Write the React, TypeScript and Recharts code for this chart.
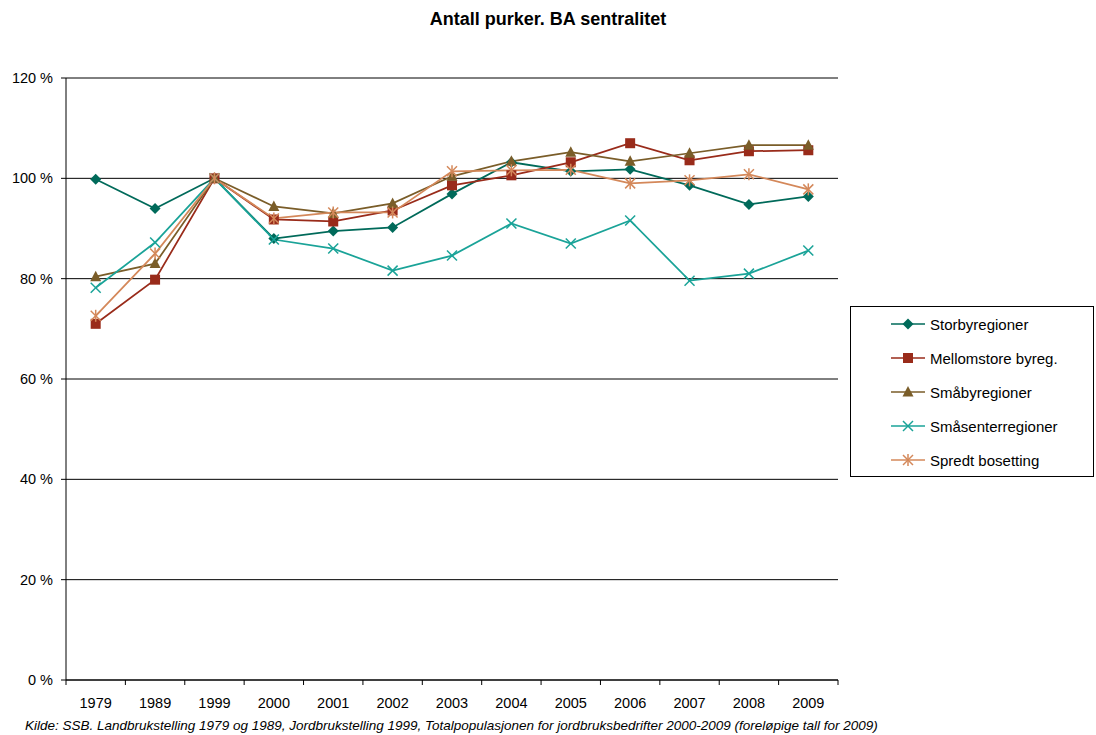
import React from "react";
import {
  LineChart,
  Line,
  XAxis,
  YAxis,
  CartesianGrid,
} from "recharts";

const years = ["1979", "1989", "1999", "2000", "2001", "2002", "2003", "2004", "2005", "2006", "2007", "2008", "2009"];

const storby = [99.8, 94, 100, 88, 89.5, 90.2, 96.9, 103.2, 101.4, 101.8, 98.6, 94.8, 96.4];
const mellomstore = [71, 79.8, 100, 91.8, 91.4, 93.6, 98.6, 100.6, 103.2, 107, 103.6, 105.4, 105.6];
const smaaby = [80.4, 83, 100, 94.4, 93, 95, 100.4, 103.4, 105.2, 103.4, 105, 106.6, 106.6];
const smaasenter = [78.2, 87.2, 100, 87.8, 86, 81.6, 84.6, 91, 87, 91.6, 79.6, 81, 85.6];
const spredt = [72.6, 85, 100, 92, 93.2, 93.2, 101.4, 101.6, 101.7, 99, 99.6, 100.8, 97.8];

const yTicks = [0, 20, 40, 60, 80, 100, 120];

const series = [
  { key: "storby", name: "Storbyregioner", values: storby, color: "#006A5A", shape: "diamond" },
  { key: "mellomstore", name: "Mellomstore byreg.", values: mellomstore, color: "#992B1A", shape: "square" },
  { key: "smaaby", name: "Småbyregioner", values: smaaby, color: "#7A5D29", shape: "triangle" },
  { key: "smaasenter", name: "Småsenterregioner", values: smaasenter, color: "#1AA398", shape: "x" },
  { key: "spredt", name: "Spredt bosetting", values: spredt, color: "#D4885A", shape: "star" },
];

const data = years.map((year, i) => {
  const row: any = { year };
  series.forEach((s) => {
    row[s.key] = s.values[i];
  });
  return row;
});

const FONT = "'Liberation Sans', Arial, sans-serif";
const PLOT_LEFT = 66;
const PLOT_RIGHT = 838;
const BAND = (PLOT_RIGHT - PLOT_LEFT) / years.length;

function Marker({ shape, cx, cy, color }: any) {
  if (cx == null || cy == null) return null;
  const r = 5.5;
  if (shape === "diamond") {
    return <polygon points={`${cx},${cy - r} ${cx + r},${cy} ${cx},${cy + r} ${cx - r},${cy}`} fill={color} />;
  }
  if (shape === "square") {
    return <rect x={cx - 5} y={cy - 5} width={10} height={10} fill={color} />;
  }
  if (shape === "triangle") {
    return <polygon points={`${cx},${cy - 6} ${cx + 5.5},${cy + 4.5} ${cx - 5.5},${cy + 4.5}`} fill={color} />;
  }
  if (shape === "x") {
    return (
      <g stroke={color} strokeWidth={1.5}>
        <line x1={cx - 5} y1={cy - 5} x2={cx + 5} y2={cy + 5} />
        <line x1={cx - 5} y1={cy + 5} x2={cx + 5} y2={cy - 5} />
      </g>
    );
  }
  return (
    <g stroke={color} strokeWidth={1.5}>
      <line x1={cx - 5} y1={cy - 5} x2={cx + 5} y2={cy + 5} />
      <line x1={cx - 5} y1={cy + 5} x2={cx + 5} y2={cy - 5} />
      <line x1={cx} y1={cy - 6} x2={cx} y2={cy + 6} />
    </g>
  );
}

const XTick = ({ x, y, payload, index }: any) => {
  const left = x - BAND / 2;
  return (
    <g>
      <line x1={left} y1={y} x2={left} y2={y + 5} stroke="#000" />
      {index === years.length - 1 && (
        <line x1={x + BAND / 2} y1={y} x2={x + BAND / 2} y2={y + 5} stroke="#000" />
      )}
      <text x={x} y={y + 28} textAnchor="middle" fontSize={14.5} fontFamily={FONT} fill="#000">
        {payload.value}
      </text>
    </g>
  );
};

const LegendBox = () => (
  <div
    style={{
      position: "absolute",
      left: 850,
      top: 306,
      width: 244,
      height: 171,
      border: "1px solid #000",
      boxSizing: "border-box",
      background: "#fff",
      fontFamily: FONT,
      fontSize: 15,
    }}
  >
    {series.map((s, i) => (
      <div key={s.key} style={{ position: "absolute", left: 40, top: 7 + i * 34, height: 20, display: "flex", alignItems: "center" }}>
        <svg width={36} height={20}>
          <line x1={0} y1={10} x2={34} y2={10} stroke={s.color} strokeWidth={1.5} />
          <Marker shape={s.shape} cx={17} cy={10} color={s.color} />
        </svg>
        <span style={{ marginLeft: 3 }}>{s.name}</span>
      </div>
    ))}
  </div>
);

export default function App() {
  return (
    <div style={{ position: "absolute", left: 0, top: 0, width: 1096, height: 735, background: "#fff" }}>
      <div
        style={{
          position: "absolute",
          top: 9,
          left: 0,
          width: 1096,
          textAlign: "center",
          fontFamily: FONT,
          fontWeight: "bold",
          fontSize: 18,
        }}
      >
        Antall purker. BA sentralitet
      </div>
      <LineChart
        width={1096}
        height={735}
        data={data}
        margin={{ top: 78, right: 1096 - PLOT_RIGHT, bottom: 25, left: 0 }}
      >
        <CartesianGrid vertical={false} stroke="#000" />
        <XAxis
          dataKey="year"
          height={30}
          padding={{ left: BAND / 2, right: BAND / 2 }}
          axisLine={{ stroke: "#000" }}
          tickLine={false}
          tickSize={0}
          tickMargin={0}
          interval={0}
          tick={<XTick />}
        />
        <YAxis
          width={PLOT_LEFT}
          domain={[0, 120]}
          ticks={yTicks}
          interval={0}
          tickSize={5}
          tickMargin={8}
          axisLine={{ stroke: "#000" }}
          tickLine={{ stroke: "#000" }}
          tickFormatter={(v: number) => `${v} %`}
          tick={{ fontSize: 14.5, fontFamily: FONT, fill: "#000" }}
        />
        <YAxis
          yAxisId="right"
          orientation="right"
          width={0}
          domain={[0, 120]}
          tick={false}
          tickLine={false}
          axisLine={{ stroke: "#888" }}
        />
        {series.map((s) => (
          <Line
            key={s.key}
            dataKey={s.key}
            name={s.name}
            stroke={s.color}
            strokeWidth={1.75}
            isAnimationActive={false}
            dot={(p: any) => <Marker key={`${s.key}-${p.index}`} shape={s.shape} cx={p.cx} cy={p.cy} color={s.color} />}
            activeDot={false}
          />
        ))}
      </LineChart>
      <LegendBox />
      <div
        style={{
          position: "absolute",
          left: 25,
          top: 718,
          fontFamily: FONT,
          fontStyle: "italic",
          fontSize: 13.5,
          whiteSpace: "nowrap",
        }}
      >
        Kilde: SSB. Landbrukstelling 1979 og 1989, Jordbrukstelling 1999, Totalpopulasjonen for jordbruksbedrifter 2000-2009 (foreløpige tall for 2009)
      </div>
    </div>
  );
}
